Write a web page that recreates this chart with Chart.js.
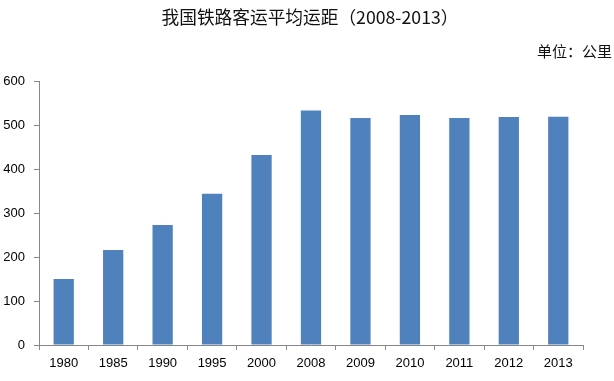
<!DOCTYPE html>
<html>
<head>
<meta charset="utf-8">
<script src="https://cdn.jsdelivr.net/npm/chart.js@4"></script>
<style>
  html, body { margin: 0; padding: 0; background: #fff; }
  #wrap { width: 614px; height: 381px; }
</style>
</head>
<body>
<div id="wrap"><canvas id="distChart" width="614" height="381"></canvas></div>
<script>
const years = ['1980', '1985', '1990', '1995', '2000', '2008', '2009', '2010', '2011', '2012', '2013'];
const avgDistance = [150, 216, 273, 344, 432, 533, 516, 523, 516, 518, 519];
const yTicks = [0, 100, 200, 300, 400, 500, 600];
const titleText = '我国铁路客运平均运距（2008-2013）';
const unitText = '单位：公里';

const axisColor = '#868686';
const labelFont = { family: 'Liberation Sans, DejaVu Sans, sans-serif', size: 13 };

const data = {
    labels: years,
    datasets: [{
        label: '平均运距',
        data: avgDistance,
        backgroundColor: '#4F81BD',
        borderWidth: 0,
        barPercentage: 0.82,
        categoryPercentage: 0.5
    }]
};

const bgPlugin = {
    id: 'white_bg',
    beforeDraw: (chart) => {
        const ctx = chart.canvas.getContext('2d');
        ctx.save();
        ctx.globalCompositeOperation = 'destination-over';
        ctx.fillStyle = 'white';
        ctx.fillRect(0, 0, chart.width, chart.height);
        ctx.restore();
    }
};

// title is centred on the page (not on the plot), unit sits at the far right
const textPlugin = {
    id: 'header_text',
    afterDraw: (chart) => {
        const ctx = chart.ctx;
        ctx.save();
        ctx.fillStyle = '#111';
        ctx.textBaseline = 'middle';
        ctx.font = '17.7px "Noto Sans CJK SC"';
        ctx.textAlign = 'center';
        ctx.fillText(titleText, 310, 17);
        ctx.font = '15px "Noto Sans CJK SC"';
        ctx.textAlign = 'right';
        ctx.fillText(unitText, chart.width - 2, 51);
        ctx.restore();
    }
};

new Chart(document.getElementById('distChart'), {
    type: 'bar',
    data: data,
    plugins: [bgPlugin, textPlugin],
    options: {
        responsive: false,
        animation: false,
        layout: { padding: { left: 3, right: 31, top: 81, bottom: 9 } },
        plugins: {
            legend: { display: false },
            tooltip: { enabled: false },
            title: { display: false }
        },
        scales: {
            x: {
                afterFit: (axis) => { axis.height = 27; },
                grid: {
                    offset: true,
                    drawOnChartArea: false,
                    drawTicks: true,
                    tickLength: 5,
                    color: axisColor
                },
                border: { color: axisColor, width: 1 },
                ticks: { color: '#000', font: labelFont, padding: 6, maxRotation: 0 }
            },
            y: {
                min: 0,
                max: 600,
                afterBuildTicks: (axis) => { axis.ticks = yTicks.map(v => ({ value: v })); },
                afterFit: (axis) => { axis.width = 36; },
                grid: {
                    drawOnChartArea: false,
                    drawTicks: true,
                    tickLength: 5,
                    color: axisColor
                },
                border: { color: axisColor, width: 1 },
                ticks: { color: '#000', font: labelFont, padding: 9 }
            }
        }
    }
});
</script>
</body>
</html>
